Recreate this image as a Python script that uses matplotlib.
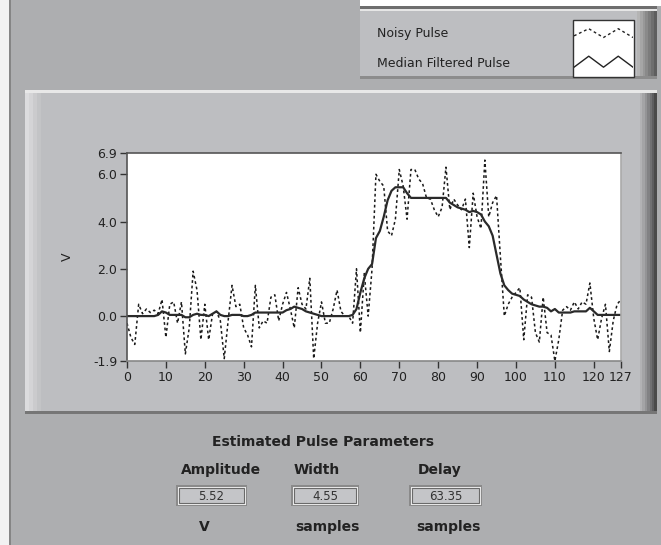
import matplotlib
matplotlib.use("Agg")
import matplotlib.pyplot as plt
from matplotlib.patches import Rectangle
import numpy as np

W, H = 661, 545

# data
samples = list(range(128))
noisy = [-0.3, -0.9, -1.2, 0.5, 0.1, 0.3, 0.15, 0.25, 0.1, 0.7,
         -0.9, 0.5, 0.6, -0.3, 0.6, -1.6, -0.5, 1.9, 1.1, -1.0,
         0.5, -1.0, 0.1, 0.2, -0.2, -1.8, -0.2, 1.3, 0.4, 0.5,
         -0.5, -0.8, -1.3, 1.3, -0.5, -0.2, -0.3, 0.8, 0.9, -0.2,
         0.5, 1.0, 0.3, -0.5, 1.2, 0.5, 0.3, 1.6, -1.8, -0.3,
         0.6, -0.3, -0.3, 0.3, 1.1, 0.2, 0.0, 0.0, -0.3, 2.0,
         -0.7, 1.8, 0.0, 2.0, 6.0, 5.7, 5.5, 3.6, 3.4, 4.1,
         6.2, 5.5, 4.1, 6.2, 6.2, 5.8, 5.6, 5.0, 4.95, 4.5,
         4.2, 4.6, 6.3, 4.5, 4.95, 4.7, 4.5, 4.95, 2.9, 5.2,
         4.2, 3.7, 6.6, 4.2, 4.8, 5.1, 2.5, 0.0, 0.5, 0.8,
         1.0, 1.2, -1.0, 0.9, 0.8, -0.7, -1.1, 0.8, -0.7, -0.8,
         -1.9, -1.0, 0.25, 0.4, 0.25, 0.6, 0.3, 0.6, 0.5, 1.4,
         -0.1, -1.0, -0.1, 0.5, -1.5, -0.2, 0.5, 0.7]
filtered = [0.0, 0.0, 0.0, 0.0, 0.0, 0.0, 0.0, 0.0, 0.05, 0.2,
            0.15, 0.05, 0.05, 0.05, 0.05, -0.05, -0.05, 0.05, 0.1, 0.05,
            0.05, 0.0, 0.1, 0.2, 0.05, 0.0, 0.0, 0.05, 0.05, 0.05,
            0.0, 0.0, 0.05, 0.15, 0.15, 0.15, 0.15, 0.15, 0.15, 0.15,
            0.15, 0.25, 0.3, 0.4, 0.35, 0.3, 0.2, 0.15, 0.1, 0.05,
            0.0, 0.0, 0.0, 0.0, 0.0, 0.0, 0.0, 0.0, 0.05, 0.3,
            1.0, 1.6, 2.0, 2.2, 3.3, 3.6, 4.2, 4.9, 5.3, 5.45,
            5.45, 5.45, 5.2, 5.0, 5.0, 5.0, 5.0, 5.0, 5.0, 5.0,
            5.0, 5.0, 5.0, 4.8, 4.7, 4.6, 4.55, 4.5, 4.4, 4.45,
            4.4, 4.3, 4.0, 3.8, 3.4, 2.6, 1.8, 1.3, 1.1, 0.95,
            0.9, 0.85, 0.7, 0.6, 0.5, 0.45, 0.4, 0.4, 0.35, 0.2,
            0.3, 0.15, 0.15, 0.15, 0.15, 0.2, 0.2, 0.2, 0.2, 0.35,
            0.2, 0.05, 0.05, 0.05, 0.05, 0.05, 0.05, 0.05]

yticks = [-1.9, 0.0, 2.0, 4.0, 6.0, 6.9]
xticks = [0, 10, 20, 30, 40, 50, 60, 70, 80, 90, 100, 110, 120, 127]

param_names = ["Amplitude", "Width", "Delay"]
param_values = ["5.52", "4.55", "63.35"]
param_units = ["V", "samples", "samples"]

panel = "#adaeb0"
frame = "#bdbec1"
fig = plt.figure(figsize=(W / 100, H / 100), dpi=100, facecolor=panel)


def rect(x0, y0, x1, y1, **kw):
    # pixel box (top-left origin) -> figure rectangle, kept under the axes
    r = Rectangle((x0 / W, 1 - y1 / H), (x1 - x0) / W, (y1 - y0) / H,
                  transform=fig.transFigure, zorder=-5, **kw)
    fig.add_artist(r)
    return r


# left border strip and top white strip over legend
rect(0, 0, 9, H, facecolor="#f2f2f2", edgecolor="none")
rect(9, 0, 11, H, facecolor="#858585", edgecolor="none")
rect(360, 0, W, 6, facecolor="white", edgecolor="none")

# legend panel
rect(360, 6, 657, 79, facecolor=frame, edgecolor="none")
rect(360, 6, 657, 9, facecolor="#6e6e6e", edgecolor="none")
rect(360, 9, 657, 11, facecolor="#e6e6e6", edgecolor="none")
rect(360, 76, 657, 79, facecolor="#8c8c8c", edgecolor="none")
for k, c in enumerate(["#b4b4b4", "#a6a6a6", "#989898", "#8a8a8a", "#7c7c7c", "#6e6e6e", "#5e5e5e"]):
    rect(637 + 2.8 * k, 11, 637 + 2.8 * (k + 1), 76, facecolor=c, edgecolor="none")
rect(573, 20, 634, 77, facecolor="white", edgecolor="#333333", lw=1.0)
fig.text(377 / W, 1 - 34 / H, "Noisy Pulse", fontsize=9, color="#222222",
         family="DejaVu Sans", va="center", ha="left")
fig.text(377 / W, 1 - 63 / H, "Median Filtered Pulse", fontsize=9, color="#222222",
         family="DejaVu Sans", va="center", ha="left")

# legend swatches drawn in a tiny axes
sw = fig.add_axes([574 / W, 1 - 76 / H, 59 / W, 55 / H])
sw.set_xlim(0, 8)
sw.set_ylim(0, 10)
sw.axis("off")
zx = [0, 2, 4, 6, 8]
sw.plot(zx, [7.3, 8.6, 7.0, 8.6, 7.0], color="#222222", lw=1.0, ls=(0, (2, 2)))
sw.plot(zx, [1.6, 3.6, 1.6, 3.6, 1.6], color="#222222", lw=1.0)

# graph frame with bevel
rect(25, 90, 657, 414, facecolor=frame, edgecolor="none")
rect(25, 90, 657, 93, facecolor="#e8e8e8", edgecolor="none")
for k, c in enumerate(["#dcdcde", "#d4d4d6", "#cbcbcd", "#c3c4c6"]):
    rect(25 + 4 * k, 93, 25 + 4 * (k + 1), 411, facecolor=c, edgecolor="none")
for k, c in enumerate(["#b2b2b4", "#a4a4a6", "#949496", "#828284", "#707072", "#5e5e60", "#4a4a4a"]):
    rect(640 + 2.4 * k, 93, 640 + 2.4 * (k + 1), 414, facecolor=c, edgecolor="none")
rect(25, 411, 657, 414, facecolor="#767676", edgecolor="none")

# the graph
ax = fig.add_axes([127 / W, 1 - 361 / H, (621 - 127) / W, (361 - 153) / H])
ax.set_facecolor("white")
ax.plot(samples, noisy, color="#1a1a1a", lw=1.1, ls=(0, (1.8, 1.8)))
ax.plot(samples, filtered, color="#2a2a2a", lw=1.6)
ax.set_xlim(0, 127)
ax.set_ylim(-1.9, 6.9)
ax.set_xticks(xticks)
ax.set_xticklabels([str(v) for v in xticks])
ax.set_yticks(yticks)
ax.set_yticklabels(["%.1f" % v for v in yticks])
ax.tick_params(axis="both", direction="out", length=5, width=1, color="#333333",
               labelsize=9, labelcolor="#222222", pad=2)
for lab in ax.get_xticklabels() + ax.get_yticklabels():
    lab.set_family("DejaVu Sans")
ax.spines["top"].set_color("#555555")
ax.spines["left"].set_color("#555555")
ax.spines["right"].set_color("#aaaaaa")
ax.spines["bottom"].set_color("#888888")
for s in ax.spines.values():
    s.set_linewidth(1.2)
ax.set_ylabel("V", fontsize=9, color="#222222", labelpad=14)

# parameter indicators
fig.text(323 / W, 1 - 442 / H, "Estimated Pulse Parameters", fontsize=10, fontweight="bold",
         color="#222222", ha="center", va="center", family="DejaVu Sans")
name_x = [221, 317, 440]
box_x = [(176, 247), (291, 359), (409, 482)]
unit_x = [204, 327, 448]
for i in range(3):
    fig.text(name_x[i] / W, 1 - 470 / H, param_names[i], fontsize=10, fontweight="bold",
             color="#222222", ha="center", va="center", family="DejaVu Sans")
    x0, x1 = box_x[i]
    rect(x0, 485, x1, 506, facecolor="#8a8a8a", edgecolor="none")
    rect(x0 + 2, 487, x1 - 1, 505, facecolor="#eeeeee", edgecolor="none")
    rect(x0 + 3, 488, x1 - 3, 503, facecolor="#c4c5c8", edgecolor="#6a6a6a", lw=0.8)
    fig.text((x0 + x1) / 2 / W, 1 - 496 / H, param_values[i], fontsize=8.5,
             color="#333333", ha="center", va="center", family="DejaVu Sans")
    fig.text(unit_x[i] / W, 1 - 527 / H, param_units[i], fontsize=10, fontweight="bold",
             color="#222222", ha="center", va="center", family="DejaVu Sans")

fig.savefig("out.png", dpi=100, facecolor=fig.get_facecolor())
